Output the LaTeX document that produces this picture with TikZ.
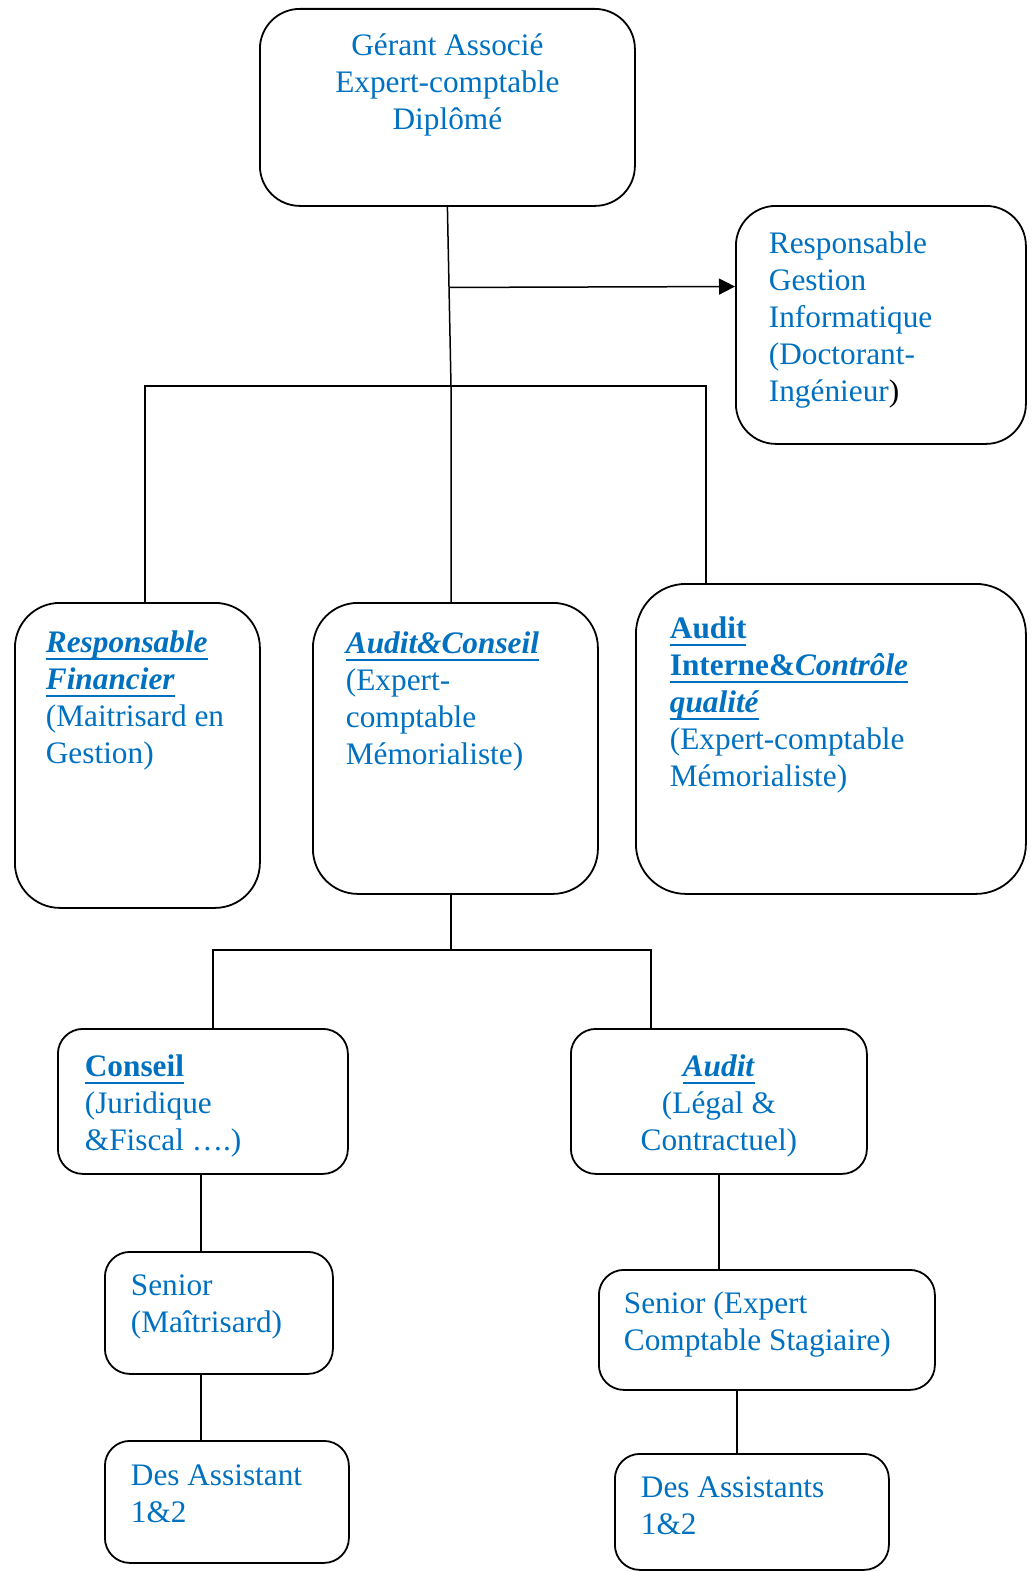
\documentclass[tikz,border=0pt]{standalone}
\usepackage{fontspec}
\setmainfont{Liberation Serif}
\usetikzlibrary{arrows.meta, positioning, calc}
\definecolor{orgblue}{RGB}{0,112,192}
\newsavebox{\ulbox}
\newcommand{\ulrule}[1]{\leavevmode\sbox{\ulbox}{#1}\rlap{\rule[-7.5pt]{\wd\ulbox}{2.6pt}}\usebox{\ulbox}}
\newcommand{\ulbi}[1]{\ulrule{\textbf{\textit{#1}}}}
\newcommand{\ulb}[1]{\ulrule{\textbf{#1}}}
\hyphenpenalty=10000
\exhyphenpenalty=10000

\begin{document}
\begin{tikzpicture}[x=1pt, y=-1pt, font={\fontsize{31.3}{37}\selectfont},
  orgbox/.style={draw, line width=1.8pt, rounded corners=25pt, text=orgblue, anchor=north west, inner ysep=0pt, align=left,
    execute at begin node={\spaceskip=0.25em\relax}},
  link/.style={line width=1.5pt}]
  \useasboundingbox (0,0) rectangle (1034,1571);

  % top level
  \node[orgbox, align=center, rounded corners=40pt, inner xsep=20pt, text width=335pt, text height=47pt, text depth=150pt] (gerant) at (259,8) {G\'erant Associ\'e\\Expert-comptable\\Dipl\^om\'e};
  \node[orgbox, rounded corners=40pt, inner xsep=33pt, text width=224pt, text height=48pt, text depth=190pt] (info) at (735,205) {Responsable\\Gestion\\Informatique\\(Doctorant-\\Ing\'enieur\textcolor{black}{)}};

  % second level
  \node[orgbox, rounded corners=45pt, inner xsep=31pt, text width=183pt, text height=50pt, text depth=255pt] (fin) at (14,602) {\ulbi{Responsable}\\\ulbi{Financier}\\(Maitrisard~en\\Gestion)};
  \node[orgbox, rounded corners=45pt, inner xsep=33pt, text width=219pt, text height=51pt, text depth=240pt] (audcons) at (312,602) {\ulbi{Audit\&Conseil}\\(Expert-\\comptable\\M\'emorialiste)};
  \node[orgbox, rounded corners=50pt, inner xsep=34pt, text width=322pt, text height=55pt, text depth=255pt] (audint) at (635,583) {\ulb{Audit}\\\ulb{Interne\&}\ulbi{Contr\^ole}\\\ulbi{qualit\'e}\\(Expert-comptable\\M\'emorialiste)};

  % third level
  \node[orgbox, inner xsep=27pt, text width=236pt, text height=48pt, text depth=97pt] (conseil) at (57,1028) {\ulb{Conseil}\\(Juridique\\\&Fiscal~….)};
  \node[orgbox, align=center, inner xsep=20pt, text width=256pt, text height=48pt, text depth=97pt] (audit) at (570,1028) {\ulbi{Audit}\\(L\'egal~\&\\Contractuel)};

  % staff
  \node[orgbox, inner xsep=26pt, text width=176pt, text height=44pt, text depth=78pt] (seniorL) at (104,1251) {Senior\\(Ma\^itrisard)};
  \node[orgbox, inner xsep=26pt, text width=192pt, text height=45pt, text depth=77pt] (assistL) at (104,1440) {Des~Assistant\\1\&2};
  \node[orgbox, inner xsep=25pt, text width=286pt, text height=44pt, text depth=76pt] (seniorR) at (598,1269) {Senior~(Expert\\Comptable~Stagiaire)};
  \node[orgbox, inner xsep=26pt, text width=222pt, text height=44pt, text depth=72pt] (assistR) at (614,1453) {Des~Assistants\\1\&2};

  % connectors
  \coordinate (trunk) at (451,386);
  \coordinate (barL) at (145,386);
  \coordinate (barR) at (706,386);
  \coordinate (tap) at ($(gerant.south)!0.45!(trunk)$);
  \coordinate (infoin) at ($(info.north west)!0.34!(info.south west)$);
  \draw[link] (gerant.south) -- (trunk) -- (trunk |- audcons.north);
  \draw[link, -{Triangle[length=16pt, width=16pt]}] (tap) -- (infoin);
  \draw[link] (barL |- fin.north) -- (barL) -- (barR) -- (barR |- audint.north);

  \coordinate (mid) at (451,950);
  \coordinate (midL) at (213,950);
  \coordinate (midR) at (651,950);
  \draw[link] (mid |- audcons.south) -- (mid);
  \draw[link] (midL |- conseil.north) -- (midL) -- (midR) -- (midR |- audit.north);

  \coordinate (colL) at (201,1200);
  \coordinate (colR) at (737,1420);
  \draw[link] (colL |- conseil.south) -- (colL |- seniorL.north);
  \draw[link] (colL |- seniorL.south) -- (colL |- assistL.north);
  \draw[link] (audit.south) -- (audit.south |- seniorR.north);
  \draw[link] (colR |- seniorR.south) -- (colR |- assistR.north);
\end{tikzpicture}
\end{document}
